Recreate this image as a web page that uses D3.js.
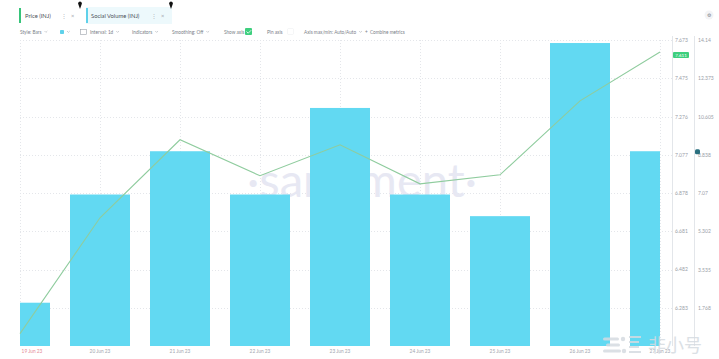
<!DOCTYPE html>
<html><head><meta charset="utf-8">
<script src="https://cdn.jsdelivr.net/npm/d3@7"></script>
<style>
html,body{margin:0;padding:0;background:#fff;}
svg{display:block;font-family:Lato,"Noto Sans",sans-serif;}
</style></head>
<body>
<svg id="c" width="719" height="359"></svg>
<script>
const dates = ["19 Jun 23","20 Jun 23","21 Jun 23","22 Jun 23","23 Jun 23","24 Jun 23","25 Jun 23","26 Jun 23","27 Jun 23"];
const socialVolume = [2, 7, 9, 7, 11, 7, 6, 14, 9];
const price = [6.148, 6.750, 7.155, 6.968, 7.129, 6.926, 6.973, 7.357, 7.611];
const priceTickLabels = ["6.283","6.482","6.681","6.878","7.077","7.276","7.475","7.673"];
const volumeTickLabels = ["1.768","3.535","5.302","7.07","8.838","10.605","12.373","14.14"];
const priceDomain = [6.084, 7.673];
const volumeDomain = [0, 14.14];
const lastPriceLabel = "7.611";

const svg = d3.select("#c");
const L = 20, R = 660, T = 40, B = 346;

const x = d3.scalePoint().domain(dates).range([L, R]);
const step = x.step();
const yV = d3.scaleLinear().domain(volumeDomain).range([B, T]);
const yP = d3.scaleLinear().domain(priceDomain).range([B, T]);

svg.append("defs").append("clipPath").attr("id","clip")
  .append("rect").attr("x",L).attr("y",0).attr("width",R-L).attr("height",B);

// grid
const grid = svg.append("g");
volumeTickLabels.forEach(t => {
  const y = Math.round(yV(+t)) + 0.5;
  grid.append("line").attr("x1",L).attr("x2",672).attr("y1",y).attr("y2",y)
    .attr("stroke","#e4e6ea").attr("stroke-dasharray","1,2");
});
dates.forEach(d => {
  const xx = Math.round(x(d)) + 0.5;
  grid.append("line").attr("x1",xx).attr("x2",xx).attr("y1",T).attr("y2",B)
    .attr("stroke","#e4e6ea").attr("stroke-dasharray","1,2");
});

// watermark
const wm = svg.append("text").attr("x",247).attr("y",197)
  .attr("font-size",40).attr("fill","#e7e8f3")
  .text("·santiment·");
const wl = wm.node().getComputedTextLength();
wm.attr("font-size", 40 * 230 / wl);

// bars
const bw = step * 0.75;
svg.append("g").attr("clip-path","url(#clip)")
  .selectAll("rect").data(dates).join("rect")
  .attr("x", d => x(d) - bw/2)
  .attr("y", (d,i) => yV(socialVolume[i]))
  .attr("width", bw)
  .attr("height", (d,i) => B - yV(socialVolume[i]))
  .attr("fill", "#62d9f2");

// price line
const line = d3.line().x((d,i) => x(dates[i])).y(d => yP(d));
svg.append("path").datum(price).attr("d", line)
  .attr("fill","none").attr("stroke","#8fcc9e").attr("stroke-width",1.1);

// axes
svg.append("line").attr("x1",672.5).attr("x2",672.5).attr("y1",T-4).attr("y2",B)
  .attr("stroke","#e3e6ea");
svg.append("line").attr("x1",694.5).attr("x2",694.5).attr("y1",T-4).attr("y2",B)
  .attr("stroke","#e3e6ea");

const pAxis = d3.axisRight(yP).tickValues(priceTickLabels.map(Number))
  .tickFormat((d,i) => priceTickLabels[i]).tickSize(0).tickPadding(3);
const pg = svg.append("g").attr("transform","translate(672,0)").call(pAxis);
pg.select(".domain").remove();
pg.selectAll("text").attr("font-size",5).attr("fill","#9aa0a8").attr("font-family","Lato,sans-serif");

const vAxis = d3.axisRight(yV).tickValues(volumeTickLabels.map(Number))
  .tickFormat((d,i) => volumeTickLabels[i]).tickSize(0).tickPadding(4);
const vg = svg.append("g").attr("transform","translate(694,0)").call(vAxis);
vg.select(".domain").remove();
vg.selectAll("text").attr("font-size",5).attr("fill","#9aa0a8").attr("font-family","Lato,sans-serif");

// last value markers
const lp = yP(price[price.length-1]);
svg.append("rect").attr("x",673).attr("y",lp).attr("width",16).attr("height",6).attr("rx",1)
  .attr("fill","#3ecf7e");
svg.append("text").attr("x",681).attr("y",lp+4.6).attr("text-anchor","middle")
  .attr("font-size",4.5).attr("fill","#fff").text(lastPriceLabel);
const lv = yV(socialVolume[socialVolume.length-1]);
svg.append("rect").attr("x",695).attr("y",lv-2).attr("width",5).attr("height",5).attr("rx",1.5)
  .attr("fill","#2a6f7e");

// x labels
const xl = svg.append("g");
dates.forEach((d,i) => {
  let cx = x(d);
  if (i === 0) cx = 32;
  xl.append("text").attr("x",cx).attr("y",353).attr("text-anchor","middle")
    .attr("font-size",4.8).attr("fill", i === 0 ? "#e58a96" : "#a0a6ae").text(d);
});

// header
function pin(g, cx){
  g.append("path").attr("d",`M${cx},9 L${cx-1.6},4.5 A1.9,1.9 0 1,1 ${cx+1.6},4.5 Z`).attr("fill","#111");
}
const h = svg.append("g").attr("font-size",5.8).attr("fill","#4a4f57");
h.append("rect").attr("x",19).attr("y",8).attr("width",2).attr("height",15).attr("fill","#37c47a");
h.append("text").attr("x",25).attr("y",18).text("Price (INJ)");
h.append("text").attr("x",61).attr("y",18).attr("fill","#b0b5bb").text("⋮");
h.append("text").attr("x",71).attr("y",18).attr("fill","#9aa0a8").text("×");
pin(h, 80);
h.append("rect").attr("x",86).attr("y",7).attr("width",86).attr("height",17).attr("fill","#edf9fc");
h.append("rect").attr("x",86).attr("y",8).attr("width",2).attr("height",15).attr("fill","#5fd1ea");
h.append("text").attr("x",91).attr("y",18).text("Social Volume (INJ)");
h.append("text").attr("x",151).attr("y",18).attr("fill","#b0b5bb").text("⋮");
h.append("text").attr("x",161).attr("y",18).attr("fill","#9aa0a8").text("×");
pin(h, 171);

// toolbar
const tb = svg.append("g").attr("font-size",4.7).attr("fill","#7a8088");
function chev(xx){
  tb.append("path").attr("d",`M${xx},31 l1.4,1.4 l1.4,-1.4`).attr("fill","none").attr("stroke","#9aa0a8").attr("stroke-width",0.5);
}
const tbItems = [[20,"Style: Bars",true],[90,"Interval: 1d",true],[132,"Indicators",true],[172,"Smoothing: Off",true],[224,"Show axis",false],[267,"Pin axis",false],[304,"Axis max/min: Auto/Auto",true],[370,"Combine metrics",false]];
tbItems.forEach(([xx,t,c]) => {
  const tx = tb.append("text").attr("x",xx).attr("y",34).text(t);
  if (c) chev(xx + tx.node().getComputedTextLength() + 3);
});
tb.append("text").attr("x",365).attr("y",34).text("+");
tb.append("rect").attr("x",60).attr("y",30).attr("width",4).attr("height",4).attr("rx",0.8).attr("fill","#5fd1ea");
chev(67);
tb.append("rect").attr("x",80.5).attr("y",29.5).attr("width",6).attr("height",5).attr("fill","none").attr("stroke","#9aa0a8").attr("stroke-width",0.6);
tb.append("rect").attr("x",245).attr("y",28).attr("width",7).attr("height",7).attr("rx",1).attr("fill","#3ecf7e");
tb.append("path").attr("d","M246.5,31.5 l1.7,1.7 l3,-3").attr("stroke","#fff").attr("fill","none").attr("stroke-width",0.8);
tb.append("rect").attr("x",287.5).attr("y",28.5).attr("width",6).attr("height",6).attr("rx",1).attr("fill","none").attr("stroke","#eef0f2").attr("stroke-width",0.6);
svg.append("circle").attr("cx",709).attr("cy",15).attr("r",4.5).attr("fill","#f3f4f6");
svg.append("text").attr("x",709).attr("y",17).attr("text-anchor","middle").attr("font-size",5).attr("fill","#7a8088").text("⚙");

// bottom-right logo
const lg = svg.append("g").attr("opacity",0.85);
[[603,339,16],[606,345,14],[603,351,18]].forEach(([bx,by,bwid]) =>
  lg.append("rect").attr("x",bx).attr("y",by-1.5).attr("width",bwid).attr("height",3).attr("rx",1.5).attr("fill","#d5dbe1"));
lg.append("circle").attr("cx",623).attr("cy",339).attr("r",2.2).attr("fill","#d5dbe1");
lg.append("circle").attr("cx",624).attr("cy",351).attr("r",2.2).attr("fill","#d5dbe1");
[[629,337,12],[629,342,10],[629,347,10],[629,352,12]].forEach(([bx,by,bwid]) =>
  lg.append("rect").attr("x",bx).attr("y",by-1).attr("width",bwid).attr("height",2).attr("fill","#d5dbe1"));
lg.append("text").attr("x",648).attr("y",352).attr("font-size",18)
  .attr("fill","#d5dbe1").attr("font-family","'Noto Sans CJK SC',sans-serif").text("非小号");
</script>
</body></html>
